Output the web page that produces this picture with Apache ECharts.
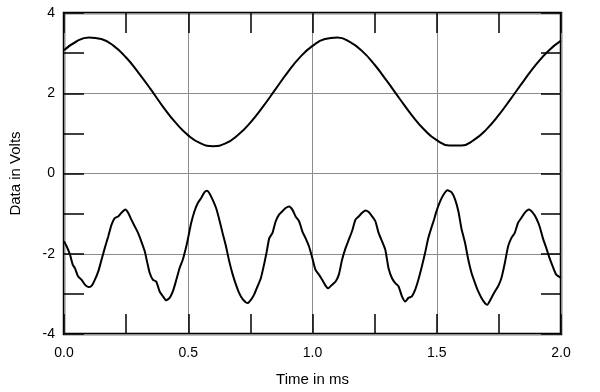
<!DOCTYPE html>
<html>
<head>
<meta charset="utf-8">
<script src="https://cdn.jsdelivr.net/npm/echarts@6/dist/echarts.min.js"></script>
<style>
html,body{margin:0;padding:0;background:#fff;}
#c{width:600px;height:392px;}
</style>
</head>
<body>
<div id="c"></div>
<script>
// Upper trace (time in ms, volts)
var upperT = [0.00,0.05,0.10,0.15,0.20,0.25,0.30,0.35,0.40,0.45,0.50,0.55,0.60,0.65,0.70,0.75,0.80,0.85,0.90,0.95,
              1.00,1.05,1.10,1.15,1.20,1.25,1.30,1.35,1.40,1.45,1.50,1.55,1.60,1.65,1.70,1.75,1.80,1.85,1.90,1.95,2.00];
var upperV = [3.07,3.29,3.39,3.35,3.18,2.89,2.51,2.09,1.65,1.26,0.95,0.75,0.68,0.75,0.96,1.27,1.66,2.09,2.52,2.90,
              3.18,3.35,3.39,3.28,3.05,2.71,2.30,1.87,1.45,1.09,0.83,0.70,0.70,0.84,1.10,1.46,1.88,2.31,2.72,3.06,3.31];

// Lower trace (time in ms, volts)
var lowerT = [0.000,0.011,0.024,0.035,0.044,0.057,0.071,0.084,0.098,0.111,0.124,0.138,0.151,0.164,0.178,0.191,0.204,0.218,0.231,0.247,
              0.258,0.271,0.285,0.298,0.311,0.325,0.334,0.345,0.358,0.371,0.385,0.398,0.411,0.425,0.438,0.452,0.465,0.478,0.492,
              0.498,0.512,0.525,0.538,0.552,0.565,0.576,0.585,0.598,0.612,0.625,0.638,0.652,0.665,0.679,0.692,0.705,0.719,0.739,
              0.752,0.765,0.779,0.792,0.805,0.816,0.826,0.839,0.852,0.866,0.879,0.892,0.906,0.919,0.932,0.946,0.959,0.972,0.986,
              0.999,1.012,1.026,1.039,1.053,1.063,1.079,1.093,1.106,1.119,1.133,1.146,1.159,1.173,1.186,1.200,1.213,1.226,1.240,
              1.253,1.266,1.280,1.293,1.306,1.320,1.333,1.346,1.360,1.373,1.386,1.400,1.413,1.426,1.440,1.453,1.466,1.480,
              1.487,1.500,1.514,1.527,1.543,1.560,1.574,1.587,1.600,1.614,1.627,1.640,1.654,1.667,1.680,1.694,1.703,1.720,1.734,
              1.747,1.760,1.774,1.787,1.800,1.814,1.827,1.840,1.854,1.871,1.887,1.900,1.914,1.927,1.941,1.954,1.967,1.981,2.000];
var lowerV = [-1.69,-1.82,-2.02,-2.27,-2.36,-2.57,-2.65,-2.77,-2.83,-2.80,-2.65,-2.44,-2.15,-1.86,-1.57,-1.28,-1.11,-1.07,-0.98,-0.90,
              -0.98,-1.15,-1.32,-1.48,-1.69,-1.94,-2.19,-2.48,-2.65,-2.69,-2.94,-3.06,-3.16,-3.10,-2.94,-2.65,-2.36,-2.15,-1.82,
              -1.65,-1.23,-0.94,-0.74,-0.61,-0.47,-0.43,-0.49,-0.65,-0.86,-1.15,-1.48,-1.82,-2.19,-2.52,-2.77,-2.98,-3.13,-3.23,
              -3.15,-3.02,-2.81,-2.61,-2.27,-1.94,-1.61,-1.48,-1.19,-1.02,-0.94,-0.86,-0.82,-0.90,-1.07,-1.19,-1.44,-1.61,-1.82,
              -2.10,-2.40,-2.52,-2.65,-2.80,-2.86,-2.77,-2.69,-2.52,-2.15,-1.86,-1.65,-1.44,-1.15,-1.07,-0.98,-0.92,-0.96,-1.07,
              -1.19,-1.48,-1.69,-1.90,-2.36,-2.61,-2.73,-2.81,-3.06,-3.19,-3.10,-3.06,-2.90,-2.65,-2.32,-1.98,-1.61,-1.32,
              -1.19,-0.92,-0.69,-0.53,-0.42,-0.47,-0.65,-0.94,-1.39,-1.73,-2.15,-2.48,-2.73,-2.94,-3.10,-3.23,-3.27,-3.10,-2.94,
              -2.81,-2.61,-2.23,-1.82,-1.61,-1.48,-1.23,-1.11,-0.98,-0.90,-0.98,-1.11,-1.32,-1.61,-1.86,-2.11,-2.32,-2.52,-2.60];

var xTickLabels = ['0.0','0.5','1.0','1.5','2.0'];
var yTickLabels = ['-4','-2','0','2','4'];

function pairs(t, v){ var out=[]; for(var i=0;i<t.length;i++) out.push([t[i], v[i]]); return out; }

var FONT = 'Liberation Sans, Arial, sans-serif';
var tickStyle = {show:true, inside:true, length:20, lineStyle:{color:'#000', width:1.5}};
var minorStyle = {show:true, splitNumber:2, length:20, lineStyle:{color:'#000', width:1.5}};
var noLine = {show:false, onZero:false};

var chart = echarts.init(document.getElementById('c'), null, {renderer:'canvas'});
chart.setOption({
  animation:false,
  backgroundColor:'#fff',
  grid:{left:62, right:39, top:13, bottom:58, show:true, borderColor:'#000', borderWidth:2.5, backgroundColor:'transparent'},
  xAxis:[{
    type:'value', min:0, max:2, interval:0.5, position:'bottom',
    name:'Time in ms', nameLocation:'middle', nameGap:38,
    nameTextStyle:{fontFamily:FONT, fontSize:15, color:'#000'},
    axisLine:noLine,
    axisTick:tickStyle, minorTick:minorStyle,
    axisLabel:{margin:12, fontFamily:FONT, fontSize:14, color:'#000',
      formatter:function(v){ var i=Math.round(v/0.5); return xTickLabels[i]; }},
    splitLine:{show:true, lineStyle:{color:'#8c8c8c', width:1}}
  },{
    type:'value', min:0, max:2, interval:0.5, position:'top',
    axisLine:noLine, axisTick:tickStyle, minorTick:minorStyle,
    axisLabel:{show:false}, splitLine:{show:false}
  }],
  yAxis:[{
    type:'value', min:-4, max:4, interval:2, position:'left',
    name:'Data in Volts', nameLocation:'middle', nameGap:41, nameRotate:90,
    nameTextStyle:{fontFamily:FONT, fontSize:15, color:'#000'},
    axisLine:noLine,
    axisTick:tickStyle, minorTick:minorStyle,
    axisLabel:{margin:9, fontFamily:FONT, fontSize:14, color:'#000',
      formatter:function(v){ var i=Math.round((v+4)/2); return yTickLabels[i]; }},
    splitLine:{show:true, lineStyle:{color:'#8c8c8c', width:1}}
  },{
    type:'value', min:-4, max:4, interval:2, position:'right',
    axisLine:noLine, axisTick:tickStyle, minorTick:minorStyle,
    axisLabel:{show:false}, splitLine:{show:false}
  }],
  series:[{
    type:'line', xAxisIndex:0, yAxisIndex:0, data:pairs(upperT, upperV),
    smooth:true, showSymbol:false, lineStyle:{color:'#000', width:2}, z:5
  },{
    type:'line', xAxisIndex:0, yAxisIndex:0, data:pairs(lowerT, lowerV),
    smooth:0.2, showSymbol:false, lineStyle:{color:'#000', width:2}, z:5
  }]
});
</script>
</body>
</html>
